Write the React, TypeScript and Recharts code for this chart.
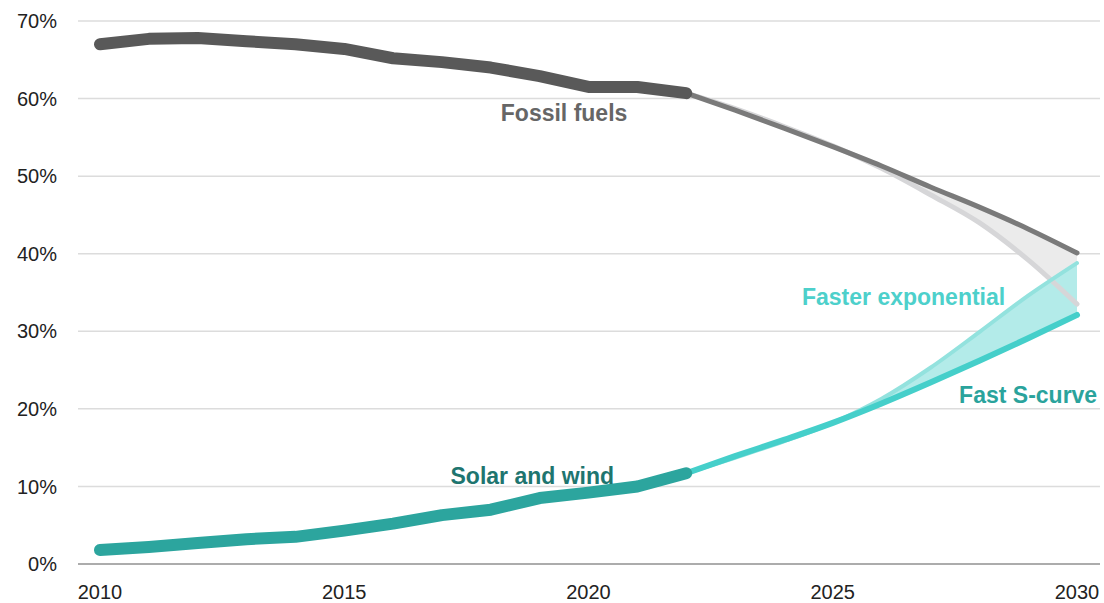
import React from 'react';
import {
  ComposedChart,
  Line,
  Area,
  XAxis,
  YAxis,
  CartesianGrid,
  ReferenceDot,
} from 'recharts';

const years = [
  2010, 2011, 2012, 2013, 2014, 2015, 2016, 2017, 2018, 2019, 2020,
  2021, 2022, 2023, 2024, 2025, 2026, 2027, 2028, 2029, 2030,
];

// Share of electricity, %
const fossilHistory = [
  67.0, 67.7, 67.8, 67.4, 67.0, 66.4, 65.2, 64.7, 64.0, 62.9, 61.5, 61.5, 60.7,
];
const solarHistory = [
  1.8, 2.2, 2.7, 3.2, 3.5, 4.3, 5.2, 6.3, 7.0, 8.5, 9.2, 10.0, 11.7,
];

// Projections 2022–2030
const fossilSCurve = [60.7, 58.5, 56.2, 53.8, 51.3, 48.6, 46.0, 43.2, 40.1];
const fossilExp = [60.7, 58.7, 56.4, 53.9, 51.0, 47.6, 44.0, 39.2, 33.5];
const solarSCurve = [11.7, 13.9, 16.0, 18.2, 20.7, 23.4, 26.2, 29.1, 32.1];
const solarExp = [11.7, 13.7, 15.8, 18.2, 21.3, 25.3, 29.9, 34.6, 38.8];

const yTicks = [0, 10, 20, 30, 40, 50, 60, 70];
const xTicks = [2010, 2015, 2020, 2025, 2030];

const projStart = 12; // index of 2022

const data = years.map((year, i) => {
  const p = i - projStart;
  const inProj = p >= 0;
  return {
    year,
    fossil: i <= projStart ? fossilHistory[i] : null,
    solar: i <= projStart ? solarHistory[i] : null,
    fossilS: inProj ? fossilSCurve[p] : null,
    fossilE: inProj ? fossilExp[p] : null,
    solarS: inProj ? solarSCurve[p] : null,
    solarE: inProj ? solarExp[p] : null,
    fossilBand: inProj ? [fossilExp[p], fossilSCurve[p]] : null,
    solarBand: inProj ? [solarSCurve[p], solarExp[p]] : null,
  };
});

const FONT = '"Liberation Sans", Arial, sans-serif';

function makeLabel(text: string, color: string) {
  return (props: any) => (
    <text
      x={props.cx}
      y={props.cy}
      textAnchor="middle"
      dominantBaseline="central"
      fontFamily={FONT}
      fontWeight="bold"
      fontSize={23}
      fill={color}
    >
      {text}
    </text>
  );
}

export default function App() {
  return (
    <div style={{ position: 'absolute', left: 0, top: 0, background: '#fff' }}>
      <ComposedChart
        width={1104}
        height={603}
        data={data}
        margin={{ top: 21, right: 4, bottom: 0, left: 0 }}
      >
        <CartesianGrid vertical={false} stroke="#dcdcdc" strokeWidth={1.5} />
        <XAxis
          dataKey="year"
          type="number"
          domain={[2010, 2030]}
          ticks={xTicks}
          padding={{ left: 22, right: 23 }}
          height={39}
          tickLine={false}
          tickSize={0}
          tickMargin={21}
          axisLine={{ stroke: '#999', strokeWidth: 1.5 }}
          tick={{ fontSize: 20, fill: '#222', fontFamily: FONT }}
        />
        <YAxis
          domain={[0, 70]}
          ticks={yTicks}
          width={78}
          axisLine={false}
          tickLine={false}
          tickSize={0}
          tickMargin={21}
          tickFormatter={(v: number) => `${v}%`}
          tick={{ fontSize: 20, fill: '#222', fontFamily: FONT }}
        />

        <Area
          dataKey="fossilBand"
          type="monotone"
          fill="#ebebeb"
          fillOpacity={1}
          stroke="none"
          isAnimationActive={false}
        />
        <Area
          dataKey="solarBand"
          type="monotone"
          fill="#b3ebe9"
          fillOpacity={1}
          stroke="none"
          isAnimationActive={false}
        />

        <Line
          dataKey="fossilE"
          type="monotone"
          stroke="#d6d6d8"
          strokeWidth={5}
          strokeLinecap="round"
          dot={false}
          isAnimationActive={false}
        />
        <Line
          dataKey="solarE"
          type="monotone"
          stroke="#93e2de"
          strokeWidth={4}
          strokeLinecap="round"
          dot={false}
          isAnimationActive={false}
        />
        <Line
          dataKey="fossilS"
          type="monotone"
          stroke="#7a7a7a"
          strokeWidth={5}
          strokeLinecap="round"
          dot={false}
          isAnimationActive={false}
        />
        <Line
          dataKey="solarS"
          type="monotone"
          stroke="#45cfca"
          strokeWidth={6}
          strokeLinecap="round"
          dot={false}
          isAnimationActive={false}
        />

        <Line
          dataKey="fossil"
          type="linear"
          stroke="#595959"
          strokeWidth={12}
          strokeLinecap="round"
          strokeLinejoin="round"
          dot={false}
          isAnimationActive={false}
        />
        <Line
          dataKey="solar"
          type="linear"
          stroke="#2ca59e"
          strokeWidth={12}
          strokeLinecap="round"
          strokeLinejoin="round"
          dot={false}
          isAnimationActive={false}
        />

        <ReferenceDot x={2019.5} y={58.2} r={0} shape={makeLabel('Fossil fuels', '#666666')} />
        <ReferenceDot x={2018.85} y={11.4} r={0} shape={makeLabel('Solar and wind', '#1e756f')} />
        <ReferenceDot x={2026.45} y={34.4} r={0} shape={makeLabel('Faster exponential', '#4dd0cb')} />
        <ReferenceDot x={2029.0} y={21.8} r={0} shape={makeLabel('Fast S-curve', '#2aa39c')} />
      </ComposedChart>
    </div>
  );
}
